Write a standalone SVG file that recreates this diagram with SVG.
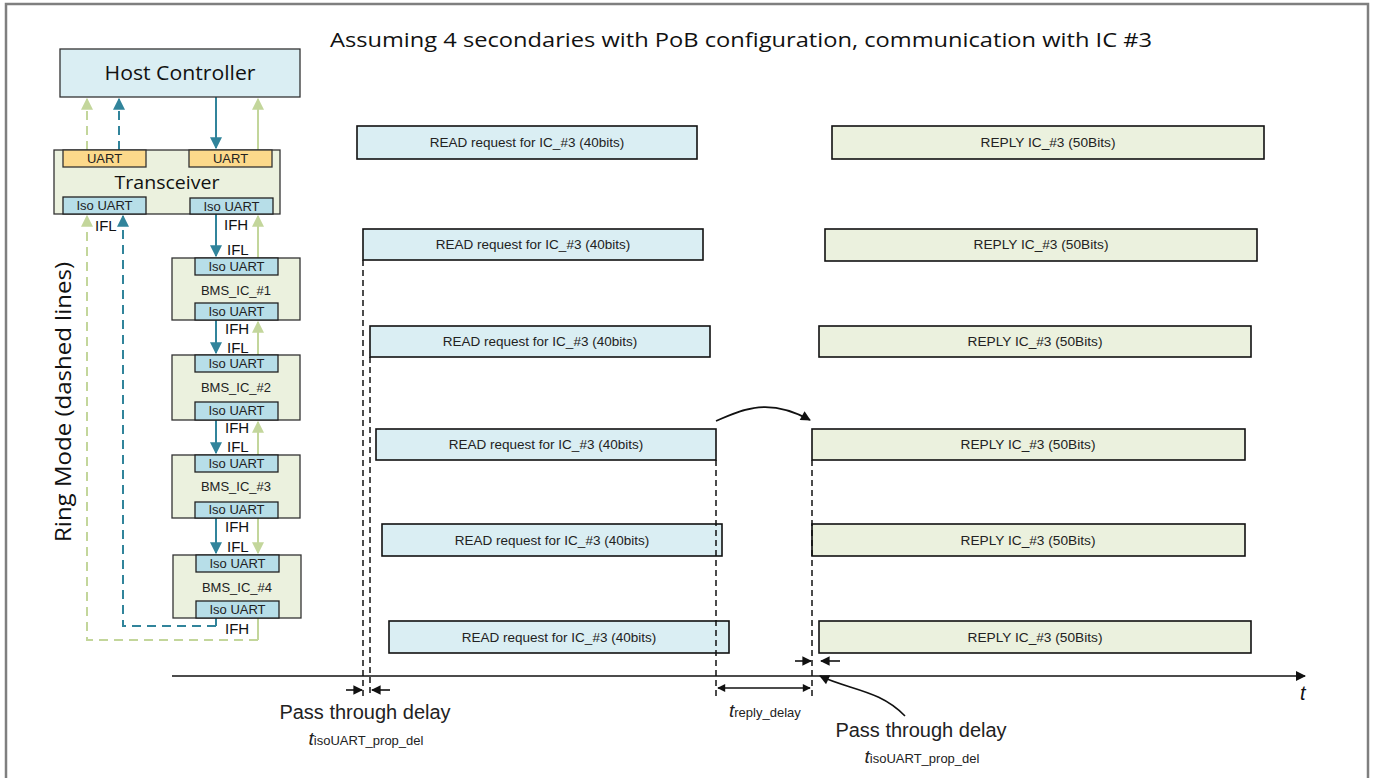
<svg xmlns="http://www.w3.org/2000/svg" width="1375" height="778" viewBox="0 0 1375 778">
  <style>
    .frame { fill: none; stroke: #7f7f7f; stroke-width: 2.5; }
    .host { fill: #daeef3; stroke: #333; stroke-width: 1.3; }
    .chip { fill: #ebf1de; stroke: #333; stroke-width: 1.3; }
    .uart { fill: #fcd98b; stroke: #333; stroke-width: 1.3; }
    .iso { fill: #b7dee8; stroke: #222; stroke-width: 1.3; }
    .read { fill: #daeef3; stroke: #111; stroke-width: 1.6; }
    .reply { fill: #ebf1de; stroke: #111; stroke-width: 1.6; }
    .lbl { font-family: "Liberation Sans", Arial, sans-serif; fill: #222; }
    .cal { font-family: "Open Sans", "Liberation Sans", sans-serif; fill: #111; }
    .ifx { font-family: "Liberation Sans", Arial, sans-serif; fill: #111; font-size: 15px; }
    .teal { stroke: #31849b; stroke-width: 2; fill: none; }
    .green { stroke: #c3d69b; stroke-width: 2; fill: none; }
    .dash { stroke-dasharray: 9 6; }
    .guide { stroke: #111; stroke-width: 1.5; stroke-dasharray: 6 4; fill: none; }
    .blk { stroke: #111; stroke-width: 1.6; fill: none; }
  </style>
  <defs>
    <marker id="mTeal" viewBox="0 0 10 10" refX="9" refY="5" markerWidth="6" markerHeight="6" orient="auto" markerUnits="strokeWidth">
      <path d="M0,0 L10,5 L0,10 z" fill="#31849b"/>
    </marker>
    <marker id="mGreen" viewBox="0 0 10 10" refX="9" refY="5" markerWidth="6" markerHeight="6" orient="auto" markerUnits="strokeWidth">
      <path d="M0,0 L10,5 L0,10 z" fill="#c3d69b"/>
    </marker>
    <marker id="mBlk" viewBox="0 0 10 10" refX="9" refY="5" markerWidth="7" markerHeight="6" orient="auto" markerUnits="strokeWidth">
      <path d="M0,0 L10,5 L0,10 z" fill="#111"/>
    </marker>
    <marker id="mBlkS" viewBox="0 0 10 10" refX="9" refY="5" markerWidth="6" markerHeight="5" orient="auto-start-reverse" markerUnits="strokeWidth">
      <path d="M0,0 L10,5 L0,10 z" fill="#111"/>
    </marker>
    <marker id="mBig" viewBox="0 0 10 10" refX="9" refY="5" markerWidth="12" markerHeight="10" orient="auto" markerUnits="userSpaceOnUse">
      <path d="M0,0 L10,5 L0,10 z" fill="#111"/>
    </marker>
  </defs>

  <!-- outer frame (open at the bottom) -->
  <path class="frame" d="M6,778 L6,4 L1368,4 L1368,778"/>

  <!-- title -->
  <text class="cal" x="741" y="47" font-size="20" text-anchor="middle" textLength="822" lengthAdjust="spacingAndGlyphs">Assuming 4 secondaries with PoB configuration, communication with IC #3</text>

  <!-- connectors -->
  <g id="connectors">
    <!-- host link -->
    <line class="green dash" x1="87" y1="150" x2="87" y2="99" marker-end="url(#mGreen)"/>
    <line class="teal dash" x1="119" y1="150" x2="119" y2="99" marker-end="url(#mTeal)"/>
    <line class="teal" x1="216" y1="97" x2="216" y2="148" marker-end="url(#mTeal)"/>
    <line class="green" x1="258" y1="150" x2="258" y2="99" marker-end="url(#mGreen)"/>
    <!-- transceiver to IC #1 -->
    <line class="teal" x1="216" y1="214" x2="216" y2="256" marker-end="url(#mTeal)"/>
    <line class="green" x1="258" y1="258" x2="258" y2="216" marker-end="url(#mGreen)"/>
    <!-- IC #1 to IC #2 -->
    <line class="teal" x1="216" y1="320" x2="216" y2="353" marker-end="url(#mTeal)"/>
    <line class="green" x1="258" y1="355" x2="258" y2="322" marker-end="url(#mGreen)"/>
    <!-- IC #2 to IC #3 -->
    <line class="teal" x1="216" y1="420" x2="216" y2="453" marker-end="url(#mTeal)"/>
    <line class="green" x1="258" y1="455" x2="258" y2="422" marker-end="url(#mGreen)"/>
    <!-- IC #3 to IC #4 -->
    <line class="teal" x1="216" y1="518" x2="216" y2="553" marker-end="url(#mTeal)"/>
    <line class="green" x1="258" y1="518" x2="258" y2="553" marker-end="url(#mGreen)"/>
    <!-- ring return paths -->
    <line class="teal" x1="216" y1="618" x2="216" y2="626"/>
    <path class="teal dash" d="M216,626 L123,626 L123,216" marker-end="url(#mTeal)"/>
    <line class="green" x1="258" y1="618" x2="258" y2="640"/>
    <path class="green dash" d="M258,640 L87,640 L87,216" marker-end="url(#mGreen)"/>
  </g>

  <!-- interface labels -->
  <g class="ifx">
    <text x="95" y="231">IFL</text>
    <text x="224" y="230">IFH</text>
    <text x="227" y="255">IFL</text>
    <text x="225" y="334">IFH</text>
    <text x="227" y="353">IFL</text>
    <text x="225" y="433">IFH</text>
    <text x="227" y="452">IFL</text>
    <text x="225" y="532">IFH</text>
    <text x="227" y="552">IFL</text>
    <text x="225" y="634">IFH</text>
  </g>

  <text class="cal" font-size="21" transform="translate(71,402) rotate(-90)" text-anchor="middle" textLength="280" lengthAdjust="spacingAndGlyphs">Ring Mode (dashed lines)</text>

  <!-- host controller -->
  <g id="host">
    <rect class="host" x="60" y="49" width="240" height="48"/>
    <text class="cal" x="180" y="80" font-size="20.5" text-anchor="middle" textLength="151" lengthAdjust="spacingAndGlyphs">Host Controller</text>
  </g>

  <!-- transceiver -->
  <g id="transceiver">
    <rect class="chip" x="54" y="150" width="226" height="64"/>
    <rect class="uart" x="63" y="150" width="83" height="17"/>
    <rect class="uart" x="189" y="150" width="83" height="17"/>
    <text class="lbl" x="104.5" y="163" font-size="13" text-anchor="middle">UART</text>
    <text class="lbl" x="230.5" y="163" font-size="13" text-anchor="middle">UART</text>
    <text class="cal" x="167" y="189" font-size="19" text-anchor="middle" textLength="105" lengthAdjust="spacingAndGlyphs">Transceiver</text>
    <rect class="iso" x="63" y="197" width="83" height="17"/>
    <rect class="iso" x="190" y="198" width="83" height="16"/>
    <text class="lbl" x="104.5" y="210" font-size="13" text-anchor="middle">Iso UART</text>
    <text class="lbl" x="231.5" y="211" font-size="13" text-anchor="middle">Iso UART</text>
  </g>

  <!-- battery monitor ICs -->
  <g id="ic1">
    <rect class="chip" x="172" y="258" width="128" height="62"/>
    <rect class="iso" x="195" y="258" width="83" height="17"/>
    <text class="lbl" x="236.5" y="271" font-size="13" text-anchor="middle">Iso UART</text>
    <text class="lbl" x="236" y="295" font-size="13" text-anchor="middle">BMS_IC_#1</text>
    <rect class="iso" x="195" y="303" width="83" height="17"/>
    <text class="lbl" x="236.5" y="316" font-size="13" text-anchor="middle">Iso UART</text>
  </g>
  <g id="ic2">
    <rect class="chip" x="172" y="355" width="128" height="65"/>
    <rect class="iso" x="195" y="355" width="83" height="17"/>
    <text class="lbl" x="236.5" y="368" font-size="13" text-anchor="middle">Iso UART</text>
    <text class="lbl" x="236" y="392" font-size="13" text-anchor="middle">BMS_IC_#2</text>
    <rect class="iso" x="195" y="402" width="83" height="18"/>
    <text class="lbl" x="236.5" y="415" font-size="13" text-anchor="middle">Iso UART</text>
  </g>
  <g id="ic3">
    <rect class="chip" x="172" y="455" width="128" height="63"/>
    <rect class="iso" x="195" y="455" width="83" height="17"/>
    <text class="lbl" x="236.5" y="468" font-size="13" text-anchor="middle">Iso UART</text>
    <text class="lbl" x="236" y="491" font-size="13" text-anchor="middle">BMS_IC_#3</text>
    <rect class="iso" x="195" y="502" width="83" height="16"/>
    <text class="lbl" x="236.5" y="514" font-size="13" text-anchor="middle">Iso UART</text>
  </g>
  <g id="ic4">
    <rect class="chip" x="173" y="555" width="128" height="63"/>
    <rect class="iso" x="196" y="555" width="83" height="17"/>
    <text class="lbl" x="237.5" y="568" font-size="13" text-anchor="middle">Iso UART</text>
    <text class="lbl" x="237" y="592" font-size="13" text-anchor="middle">BMS_IC_#4</text>
    <rect class="iso" x="196" y="601" width="83" height="17"/>
    <text class="lbl" x="237.5" y="614" font-size="13" text-anchor="middle">Iso UART</text>
  </g>

  <!-- READ request frames -->
  <g id="reads" class="lbl" font-size="13.5" text-anchor="middle">
    <rect class="read" x="357" y="126" width="340" height="33"/>
    <text x="527" y="147">READ request for IC_#3 (40bits)</text>
    <rect class="read" x="363" y="229" width="340" height="31"/>
    <text x="533" y="249">READ request for IC_#3 (40bits)</text>
    <rect class="read" x="370" y="326" width="340" height="31"/>
    <text x="540" y="346">READ request for IC_#3 (40bits)</text>
    <rect class="read" x="376" y="429" width="340" height="31"/>
    <text x="546" y="449">READ request for IC_#3 (40bits)</text>
    <rect class="read" x="382" y="524" width="340" height="32"/>
    <text x="552" y="545">READ request for IC_#3 (40bits)</text>
    <rect class="read" x="389" y="621" width="340" height="32"/>
    <text x="559" y="642">READ request for IC_#3 (40bits)</text>
  </g>

  <!-- REPLY frames -->
  <g id="replies" class="lbl" font-size="13.7" text-anchor="middle">
    <rect class="reply" x="832" y="126" width="432" height="33"/>
    <text x="1048" y="147">REPLY IC_#3 (50Bits)</text>
    <rect class="reply" x="825" y="229" width="432" height="32"/>
    <text x="1041" y="249">REPLY IC_#3 (50Bits)</text>
    <rect class="reply" x="819" y="326" width="432" height="31"/>
    <text x="1035" y="346">REPLY IC_#3 (50Bits)</text>
    <rect class="reply" x="812" y="429" width="433" height="31"/>
    <text x="1028" y="449">REPLY IC_#3 (50Bits)</text>
    <rect class="reply" x="812" y="524" width="433" height="32"/>
    <text x="1028" y="545">REPLY IC_#3 (50Bits)</text>
    <rect class="reply" x="819" y="621" width="432" height="32"/>
    <text x="1035" y="642">REPLY IC_#3 (50Bits)</text>
  </g>

  <!-- timing annotations -->
  <g id="timing">
    <line class="blk" x1="172" y1="676" x2="1305" y2="676" stroke-width="2" marker-end="url(#mBig)"/>
    <text x="1300" y="700" font-family="Liberation Sans, Arial, sans-serif" font-size="20" font-style="italic" fill="#111">t</text>

    <line class="guide" x1="363" y1="260" x2="363" y2="696"/>
    <line class="guide" x1="370" y1="357" x2="370" y2="696"/>
    <line class="guide" x1="716" y1="460" x2="716" y2="696"/>
    <line class="guide" x1="812" y1="460" x2="812" y2="696"/>

    <line class="blk" x1="346" y1="690" x2="362" y2="690" marker-end="url(#mBlk)"/>
    <line class="blk" x1="390" y1="690" x2="372" y2="690" marker-end="url(#mBlk)"/>
    <line class="blk" x1="795" y1="661" x2="811" y2="661" marker-end="url(#mBlk)"/>
    <line class="blk" x1="840" y1="661" x2="821" y2="661" marker-end="url(#mBlk)"/>

    <line class="blk" x1="718" y1="688" x2="810" y2="688" marker-start="url(#mBlkS)" marker-end="url(#mBlkS)"/>

    <path class="blk" d="M716,421 C745,408 770,398 810,420" marker-end="url(#mBig)"/>
    <path class="blk" d="M905,716 C880,690 850,690 820,676" marker-end="url(#mBig)"/>

    <text class="lbl" x="365" y="719" font-size="20" text-anchor="middle" fill="#111">Pass through delay</text>
    <text class="lbl" x="366" y="745" text-anchor="middle" fill="#111"><tspan font-size="19" font-style="italic">t</tspan><tspan font-size="13">isoUART_prop_del</tspan></text>

    <text class="lbl" x="729" y="717" fill="#111"><tspan font-size="19" font-style="italic">t</tspan><tspan font-size="13">reply_delay</tspan></text>

    <text class="lbl" x="921" y="737" font-size="20" text-anchor="middle" fill="#111">Pass through delay</text>
    <text class="lbl" x="922" y="763" text-anchor="middle" fill="#111"><tspan font-size="19" font-style="italic">t</tspan><tspan font-size="13">isoUART_prop_del</tspan></text>
  </g>
</svg>
